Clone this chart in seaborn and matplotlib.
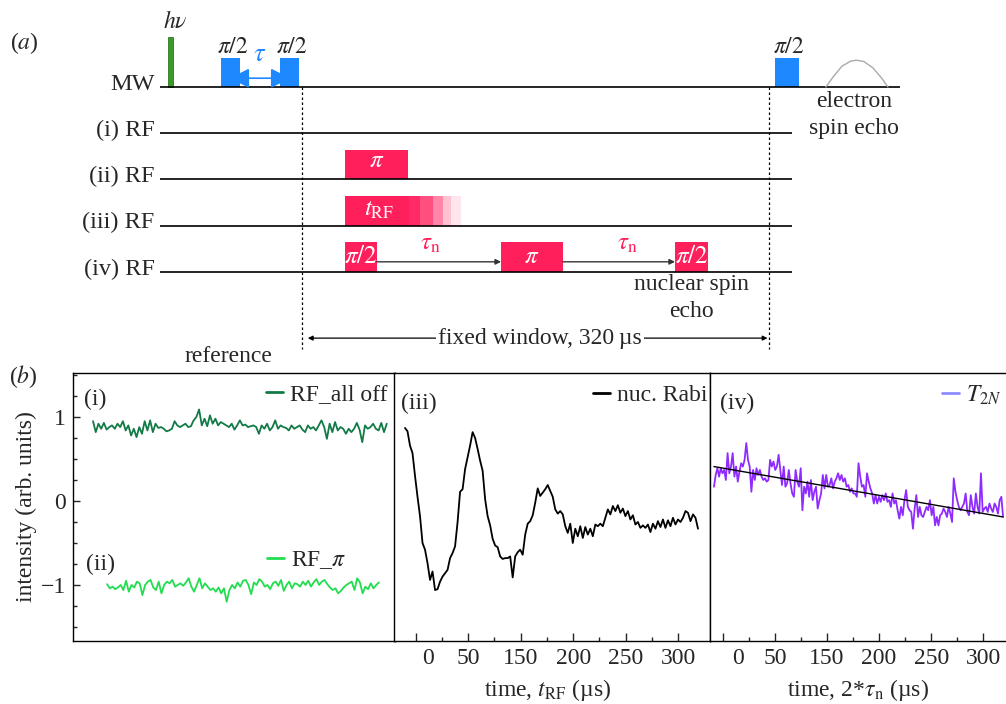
import numpy as np
import pandas as pd
import matplotlib
matplotlib.use("Agg")
import matplotlib.pyplot as plt
import seaborn as sns
from matplotlib.lines import Line2D
from matplotlib.transforms import ScaledTranslation

# ------------------------------------------------------------------ data
# (a) pulse-sequence diagram, times in microseconds (t = 0 at start of window)
channel_names = ["MW", "(i) RF", "(ii) RF", "(iii) RF", "(iv) RF"]
window_us = 320
laser_t = -90.0
mw_pulse_start = [-55.5, -15.1, 324.1]
mw_pulse_end = [-42.5, -2.1, 340.5]
mw_pulse_label = [r"$\pi/2$", r"$\pi/2$", r"$\pi/2$"]
echo_t = [359.0, 364.0, 370.0, 376.0, 380.0, 385.0, 391.0, 397.0, 401.5]
echo_h = [0.0, 0.22, 0.45, 0.56, 0.58, 0.55, 0.42, 0.2, 0.0]
rf2_start, rf2_end = [29.5], [72.6]
rf3_seg_start = [29.5, 73.3, 80.9, 89.6, 96.8, 102.1]
rf3_seg_end = [73.3, 80.9, 89.6, 96.8, 102.1, 109.0]
rf3_seg_color = ["#ff1f5b", "#ff2a66", "#ff4f80", "#ff86a6", "#ffc2d1", "#ffe6ee"]
rf4_start = [29.5, 136.4, 255.6]
rf4_end = [51.4, 178.8, 278.2]
rf4_label = [r"$\pi/2$", r"$\pi$", r"$\pi/2$"]

# (b) measured traces
ref_off = [0.95, 0.82, 0.92, 0.86, 0.93, 0.85, 0.88, 0.90, 0.86, 0.92, 0.88, 0.95, 0.84, 0.90,
           0.78, 0.86, 0.76, 0.88, 0.80, 0.95, 0.84, 0.96, 0.82, 0.92, 0.87, 0.88, 0.86, 0.83,
           0.84, 0.86, 0.95, 0.90, 0.88, 0.90, 0.92, 0.88, 0.89, 0.96, 1.00, 1.09, 0.90, 0.98,
           0.89, 1.02, 0.92, 0.98, 0.90, 0.94, 0.92, 0.90, 0.88, 0.92, 0.85, 0.90, 0.96, 0.90,
           0.91, 0.88, 0.89, 0.90, 0.88, 0.80, 0.90, 0.86, 0.92, 0.84, 0.88, 0.96, 0.86, 0.90,
           0.88, 0.87, 0.84, 0.90, 0.86, 0.88, 0.90, 0.85, 0.82, 0.90, 0.86, 0.88, 0.84, 0.90,
           0.96, 0.88, 0.74, 0.92, 0.82, 0.94, 0.84, 0.88, 0.86, 0.80, 0.86, 0.82, 0.86, 0.93,
           0.85, 0.70, 0.90, 0.86, 0.88, 0.92, 0.86, 0.84, 0.93, 0.82, 0.92]
ref_pi = [-0.99, -1.04, -1.02, -1.05, -1.03, -1.00, -1.06, -0.95, -1.08, -1.00, -1.03, -0.96,
          -0.98, -1.12, -1.00, -0.96, -0.94, -1.03, -1.06, -0.96, -1.10, -1.00, -0.96, -0.98,
          -0.94, -1.02, -1.00, -0.98, -1.01, -0.97, -0.92, -1.02, -1.08, -1.00, -0.92, -1.04,
          -0.98, -1.02, -1.06, -1.04, -1.08, -1.03, -1.10, -1.04, -1.20, -1.06, -1.00, -1.04,
          -0.97, -1.02, -0.95, -0.94, -1.00, -1.11, -0.97, -1.00, -0.93, -0.96, -1.02, -1.00,
          -1.05, -0.98, -0.96, -1.01, -0.94, -1.07, -1.00, -0.96, -1.04, -0.98, -0.99, -1.02,
          -0.96, -1.00, -0.95, -1.02, -0.97, -0.93, -1.00, -0.96, -0.94, -0.99, -1.03, -1.06,
          -1.04, -1.10, -1.07, -1.03, -1.00, -0.98, -0.96, -1.06, -0.92, -0.97, -1.10, -1.02,
          -1.05, -0.98, -1.04, -1.00, -0.97]
rabi = [0.87, 0.83, 0.66, 0.57, 0.30, 0.05, -0.18, -0.50, -0.58, -0.74, -0.94, -0.84, -1.06,
        -1.05, -0.96, -0.90, -0.86, -0.82, -0.68, -0.62, -0.54, -0.25, 0.11, 0.14, 0.38, 0.52,
        0.66, 0.82, 0.75, 0.62, 0.48, 0.36, 0.02, -0.18, -0.29, -0.45, -0.53, -0.55, -0.66,
        -0.69, -0.68, -0.68, -0.66, -0.91, -0.66, -0.61, -0.58, -0.64, -0.40, -0.27, -0.24,
        -0.17, -0.02, 0.15, 0.06, 0.10, 0.14, 0.19, 0.12, 0.05, -0.10, -0.15, -0.12, -0.16,
        -0.30, -0.38, -0.27, -0.50, -0.33, -0.42, -0.30, -0.44, -0.31, -0.40, -0.33, -0.42,
        -0.28, -0.30, -0.27, -0.30, -0.20, -0.10, -0.16, -0.06, -0.12, -0.05, -0.14, -0.09,
        -0.18, -0.12, -0.22, -0.17, -0.28, -0.25, -0.32, -0.29, -0.32, -0.28, -0.37, -0.27,
        -0.33, -0.24, -0.31, -0.22, -0.32, -0.23, -0.30, -0.20, -0.28, -0.22, -0.25, -0.20,
        -0.12, -0.14, -0.24, -0.16, -0.20, -0.33]
t2n = [0.17, 0.31, 0.39, 0.29, 0.39, 0.33, 0.37, 0.25, 0.57, 0.33, 0.41, 0.57, 0.29, 0.41,
       0.23, 0.35, 0.45, 0.41, 0.49, 0.69, 0.49, 0.41, 0.11, 0.37, 0.25, 0.39, 0.31, 0.37,
       0.29, 0.25, 0.27, 0.23, 0.25, 0.49, 0.41, 0.47, 0.37, 0.41, 0.55, 0.37, 0.19, 0.41,
       0.17, 0.21, 0.37, 0.21, 0.09, 0.05, 0.37, 0.23, 0.17, 0.39, -0.11, 0.17, 0.09, 0.23,
       0.05, 0.25, 0.01, 0.11, 0.17, -0.09, 0.01, 0.09, 0.31, 0.15, 0.31, 0.17, 0.19, 0.27,
       0.15, 0.23, 0.27, 0.33, 0.25, 0.31, 0.23, 0.27, 0.17, 0.19, 0.11, 0.15, 0.09, 0.09,
       0.05, 0.45, 0.29, 0.17, 0.19, 0.05, 0.33, 0.23, 0.15, 0.09, -0.03, 0.07, -0.03, 0.05,
       -0.01, 0.07, 0.01, 0.09, -0.01, 0.01, -0.07, 0.09, -0.03, 0.01, -0.11, -0.21, -0.07,
       -0.17, 0.01, 0.13, -0.07, -0.11, -0.13, -0.33, -0.09, 0.07, -0.19, -0.07, -0.17,
       -0.19, -0.13, -0.07, -0.11, 0.01, -0.17, -0.07, -0.29, -0.19, -0.29, -0.17, -0.15,
       -0.09, -0.13, -0.19, -0.07, -0.15, -0.25, 0.27, 0.11, 0.01, -0.07, -0.11, -0.07, -0.03,
       0.09, -0.13, -0.17, 0.07, -0.07, -0.15, 0.09, -0.07, -0.15, 0.33, -0.13, -0.09, -0.07,
       -0.13, -0.03, -0.09, -0.13, -0.03, -0.07, -0.15, 0.01, 0.05, -0.19]
fit_t = [0, 320]
fit_y = [0.41, -0.19]
xtick_labels = ["0", "50", "150", "200", "250", "300"]
ytick_values = [-1, 0, 1]

# ------------------------------------------------------------------ style
sns.set_style("ticks")
plt.rcParams["font.family"] = ["Liberation Serif", "DejaVu Serif"]
plt.rcParams["mathtext.fontset"] = "stix"
plt.rcParams["axes.linewidth"] = 1.0

W, H = 1006, 704
fig = plt.figure(figsize=(W / 100, H / 100), dpi=100)


def fx(px):
    return px / W


def fy(py):
    return 1 - py / H


BLUE = "#1e88ff"
PINK = "#ff1f5b"
FS = 17
DFS = 17.5

# ------------------------------------------------------------------ (a) diagram
axd = fig.add_axes([0, fy(360), 1, 360 / H])
axd.set_xlim(-206.9, 482.4)
axd.set_ylim(5.903, -1.881)
axd.axis("off")

ch_y = list(range(len(channel_names)))
line_end = [409.8, 335.8, 335.8, 335.8, 335.8]
axd.hlines(ch_y, -97.3, line_end, color="black", lw=1.2)
for y, name in zip(ch_y, channel_names):
    axd.text(-101, y + 0.06, name, ha="right", va="baseline", fontsize=DFS)

# laser pulse
axd.bar([laser_t], [-1.08], width=3.6, bottom=0, color="#3a9a2a", edgecolor="#2c7a1e", lw=0.6)
axd.text(laser_t + 3.5, -1.41, r"$h\nu$", ha="center", va="center", fontsize=FS)

# MW pulses
mw_c = [(s + e) / 2 for s, e in zip(mw_pulse_start, mw_pulse_end)]
mw_w = [e - s for s, e in zip(mw_pulse_start, mw_pulse_end)]
axd.bar(mw_c, [-0.62] * 3, width=mw_w, bottom=0, color=BLUE, lw=0)
for c, lab in zip(mw_c, mw_pulse_label):
    axd.text(c + 1.5, -0.86, lab, ha="center", va="center", fontsize=FS)
axd.annotate("", xy=(-49.5, -0.19), xytext=(-8.0, -0.19),
             arrowprops=dict(arrowstyle="<|-|>", color=BLUE, lw=1.2, mutation_scale=30,
                             shrinkA=0, shrinkB=0))
axd.text(-29.0, -0.69, r"$\tau$", color=BLUE, ha="center", va="center", fontsize=19)

# electron spin echo
axd.plot(echo_t, [-h for h in echo_h], color="#aaaaaa", lw=1.0)
axd.text(378.2, 0.32, "electron", ha="center", va="center", fontsize=FS)
axd.text(378.2, 0.89, "spin echo", ha="center", va="center", fontsize=FS)

# (ii) RF pi pulse
axd.bar([(rf2_start[0] + rf2_end[0]) / 2], [-0.64], width=rf2_end[0] - rf2_start[0], bottom=2,
        color=PINK, lw=0)
axd.text((rf2_start[0] + rf2_end[0]) / 2, 2 - 0.40, r"$\pi$", color="white", ha="center",
         va="center", fontsize=18)

# (iii) RF variable-length pulse
for s, e, c in zip(rf3_seg_start, rf3_seg_end, rf3_seg_color):
    axd.bar([(s + e) / 2], [-0.64], width=e - s, bottom=3, color=c, lw=0)
axd.text(52.5, 3 - 0.33, r"$t_{\rm RF}$", color="white", ha="center", va="center", fontsize=18)

# (iv) RF spin-echo pulses
rf4_c = [(s + e) / 2 for s, e in zip(rf4_start, rf4_end)]
rf4_w = [e - s for s, e in zip(rf4_start, rf4_end)]
axd.bar(rf4_c, [-0.64] * 3, width=rf4_w, bottom=4, color=PINK, lw=0)
for c, lab in zip(rf4_c, rf4_label):
    axd.text(c, 4 - 0.32, lab, color="white", ha="center", va="center", fontsize=18)
for a, b, tx in [(rf4_end[0], rf4_start[1], 87.7), (rf4_end[1], rf4_start[2], 222.7)]:
    axd.annotate("", xy=(b, 3.78), xytext=(a, 3.78),
                 arrowprops=dict(arrowstyle="-|>", color="#333333", lw=1.0, mutation_scale=8,
                                 shrinkA=0, shrinkB=0))
    axd.text(tx, 3.40, r"$\tau_{\rm n}$", color=PINK, ha="center", va="center", fontsize=18)
axd.text(267.2, 4.26, "nuclear spin", ha="center", va="center", fontsize=FS)
axd.text(267.2, 4.86, "echo", ha="center", va="center", fontsize=FS)

# fixed window
axd.vlines([0, window_us], 0, 5.66, color="black", lw=0.9, linestyles=(0, (2, 2)))
axd.annotate("", xy=(4, 5.43), xytext=(window_us - 1, 5.43),
             arrowprops=dict(arrowstyle="<|-|>", color="black", lw=0.9, mutation_scale=7,
                             shrinkA=0, shrinkB=0))
axd.text(163.1, 5.43, "fixed window, 320\u2009\u00b5s", ha="center", va="center", fontsize=FS,
         bbox=dict(facecolor="white", edgecolor="none", pad=1.5))
axd.text(-190.5, -0.95, r"($a$)", ha="center", va="center", fontsize=FS)

# ------------------------------------------------------------------ (b) traces
ybot, ytop = -1.667, 1.524
ax1 = fig.add_axes([fx(73), fy(641), (395 - 73) / W, (641 - 373) / H])
ax2 = fig.add_axes([fx(394), fy(641), (710 - 394) / W, (641 - 373) / H])
ax3 = fig.add_axes([fx(710), fy(641), (1014 - 710) / W, (641 - 373) / H])

df_off = pd.DataFrame({"t": np.linspace(0, 320, len(ref_off)), "y": ref_off})
df_pi = pd.DataFrame({"t": np.linspace(15.3, 311.5, len(ref_pi)), "y": ref_pi})
df_rabi = pd.DataFrame({"t": np.linspace(0, 320, len(rabi)), "y": rabi})
df_t2n = pd.DataFrame({"t": np.linspace(0, 320, len(t2n)), "y": t2n})
df_fit = pd.DataFrame({"t": fit_t, "y": fit_y})

C_OFF, C_PI, C_T2N = "#127a46", "#22dd50", "#8f2bff"
sns.lineplot(data=df_off, x="t", y="y", ax=ax1, color=C_OFF, lw=1.3, legend=False)
sns.lineplot(data=df_pi, x="t", y="y", ax=ax1, color=C_PI, lw=1.3, legend=False)
sns.lineplot(data=df_rabi, x="t", y="y", ax=ax2, color="black", lw=1.3, legend=False)
sns.lineplot(data=df_t2n, x="t", y="y", ax=ax3, color=C_T2N, lw=1.3, legend=False)
sns.lineplot(data=df_fit, x="t", y="y", ax=ax3, color="black", lw=1.0, legend=False)

ax1.set_xlim(-21.8, 329.0)
ax2.set_xlim(-12.0, 333.1)
ax3.set_xlim(-4.4, 332.1)
for ax in (ax1, ax2, ax3):
    ax.set_ylim(ybot, ytop)
    ax.set_xlabel("")
    ax.set_ylabel("")
    for s in ax.spines.values():
        s.set_color("black")
        s.set_linewidth(1.0)

# y axis only on the left panel
ax1.set_yticks(ytick_values)
ax1.set_yticklabels(["\u22121", "0", "1"], fontsize=FS)
ax1.yaxis.set_minor_locator(matplotlib.ticker.MultipleLocator(0.25))
ax1.tick_params(axis="y", which="major", direction="in", length=5, width=1, pad=5)
ax1.tick_params(axis="y", which="minor", direction="in", length=3, width=1)
ax1.set_xticks([])
ax1.set_ylabel("intensity (arb. units)", fontsize=FS, labelpad=3)
for ax in (ax2, ax3):
    ax.set_yticks([])

# x axes of panels (iii) and (iv)
for ax, first, step, shift in [(ax2, 11.7, 28.67, 12), (ax3, 9.9, 28.81, 15)]:
    major = [first + 2 * step * k for k in range(len(xtick_labels))]
    minor = [first + step * (2 * k + 1) for k in range(len(xtick_labels) - 1)]
    ax.set_xticks(major)
    ax.set_xticklabels(xtick_labels, fontsize=FS)
    ax.set_xticks(minor, minor=True)
    ax.tick_params(axis="x", which="major", direction="in", length=6, width=1, pad=5)
    ax.tick_params(axis="x", which="minor", direction="in", length=3, width=1)
    lab0 = ax.get_xticklabels()[0]
    lab0.set_transform(lab0.get_transform() + ScaledTranslation(shift / 100, 0, fig.dpi_scale_trans))
ax2.set_xlabel("time, $t_{\\rm RF}$ (\u00b5s)", fontsize=FS)
ax3.set_xlabel("time, 2*$\\tau_{\\rm n}$ (\u00b5s)", fontsize=FS)
ax3.xaxis.set_label_coords((858 - 710) / (1014 - 710), -0.135)
ax2.xaxis.set_label_coords((548 - 394) / (710 - 394), -0.135)

# legends
leg_kw = dict(frameon=False, fontsize=FS, handlelength=0.7, handletextpad=0.3,
              borderpad=0, borderaxespad=0, loc="center left")
l1 = ax1.legend([Line2D([], [], color=C_OFF, lw=2)], ["RF_all off"],
                bbox_to_anchor=((266 - 73) / 322, (641 - 394) / 268), **leg_kw)
ax1.add_artist(l1)
ax1.legend([Line2D([], [], color=C_PI, lw=2)], [r"RF_$\pi$"],
           bbox_to_anchor=((267 - 73) / 322, (641 - 560) / 268), **leg_kw)
ax2.legend([Line2D([], [], color="black", lw=2)], ["nuc. Rabi"],
           bbox_to_anchor=((593 - 394) / 316, (641 - 395) / 268), **leg_kw)
ax3.legend([Line2D([], [], color="#8c8cff", lw=2)], [r"$T_{2N}$"],
           bbox_to_anchor=((942 - 710) / 304, (641 - 395) / 268), **leg_kw)

# panel tags
ax1.text((84 - 73) / 322, (641 - 399) / 268, "(i)", transform=ax1.transAxes, fontsize=FS,
         va="center", ha="left")
ax1.text((86 - 73) / 322, (641 - 564) / 268, "(ii)", transform=ax1.transAxes, fontsize=FS,
         va="center", ha="left")
ax2.text((401 - 394) / 316, (641 - 403) / 268, "(iii)", transform=ax2.transAxes, fontsize=FS,
         va="center", ha="left")
ax3.text((720 - 710) / 304, (641 - 403) / 268, "(iv)", transform=ax3.transAxes, fontsize=FS,
         va="center", ha="left")
fig.text(fx(23), fy(377), r"($b$)", ha="center", va="center", fontsize=FS)
fig.text(fx(228), fy(357), "reference", ha="center", va="center", fontsize=FS)

fig.savefig("out.png", dpi=100)
